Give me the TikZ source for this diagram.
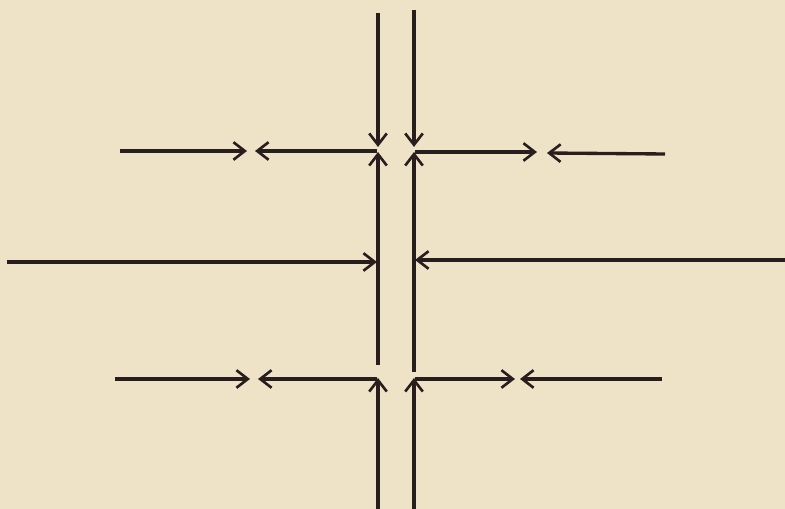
\documentclass[tikz,border=0pt]{standalone}
\usepackage{xcolor}
\usepackage{tikz}
\usetikzlibrary{arrows.meta}
\definecolor{paper}{RGB}{239,227,199}
\definecolor{ink}{RGB}{40,30,30}
\tikzset{
  wire/.style={line width=1.9pt, draw=ink},
  flow/.style={wire, -{Straight Barb[length=6.5pt, width=10pt, line width=1.5pt]}},
}
\begin{document}
\begin{tikzpicture}[x=0.02cm, y=-0.02cm]

  %% paper
  \fill[paper] (0,0) rectangle (785,509);
  \useasboundingbox (0,0) rectangle (785,509);

  %% Channel walls, top part
  \coordinate (lt0) at (378,13);  \coordinate (lt1) at (378,147);
  \coordinate (rt0) at (414,10);  \coordinate (rt1) at (414,147);
  \draw[flow] (lt0) -- (lt1);
  \draw[flow] (rt0) -- (rt1);

  %% Row 1
  \coordinate (a1) at (120,151);  \coordinate (a2) at (247,151);
  \coordinate (a3) at (377,151);  \coordinate (a4) at (255,151);
  \coordinate (b1) at (415,152);  \coordinate (b2) at (537,152);
  \coordinate (b3) at (665,154);  \coordinate (b4) at (547,153);
  \draw[flow] (a1) -- (a2);
  \draw[flow] (a3) -- (a4);
  \draw[flow] (b1) -- (b2);
  \draw[flow] (b3) -- (b4);

  %% Channel walls, middle part
  \coordinate (lm0) at (378,365); \coordinate (lm1) at (378,152);
  \coordinate (rm0) at (414,372); \coordinate (rm1) at (414,152);
  \draw[flow] (lm0) -- (lm1);
  \draw[flow] (rm0) -- (rm1);

  %% Row 2
  \coordinate (c1) at (7,262);    \coordinate (c2) at (377,262);
  \coordinate (d1) at (785,260);  \coordinate (d2) at (415,260);
  \draw[flow] (c1) -- (c2);
  \draw[flow] (d1) -- (d2);

  %% Row 3
  \coordinate (e1) at (115,379);  \coordinate (e2) at (250,379);
  \coordinate (e3) at (377,379);  \coordinate (e4) at (258,379);
  \coordinate (f1) at (415,379);  \coordinate (f2) at (515,379);
  \coordinate (f3) at (662,379);  \coordinate (f4) at (520,379);
  \draw[flow] (e1) -- (e2);
  \draw[flow] (e3) -- (e4);
  \draw[flow] (f1) -- (f2);
  \draw[flow] (f3) -- (f4);

  %% Channel walls, bottom part
  \coordinate (lb0) at (378,509); \coordinate (lb1) at (378,378);
  \coordinate (rb0) at (414,509); \coordinate (rb1) at (414,378);
  \draw[flow] (lb0) -- (lb1);
  \draw[flow] (rb0) -- (rb1);

\end{tikzpicture}
\end{document}
